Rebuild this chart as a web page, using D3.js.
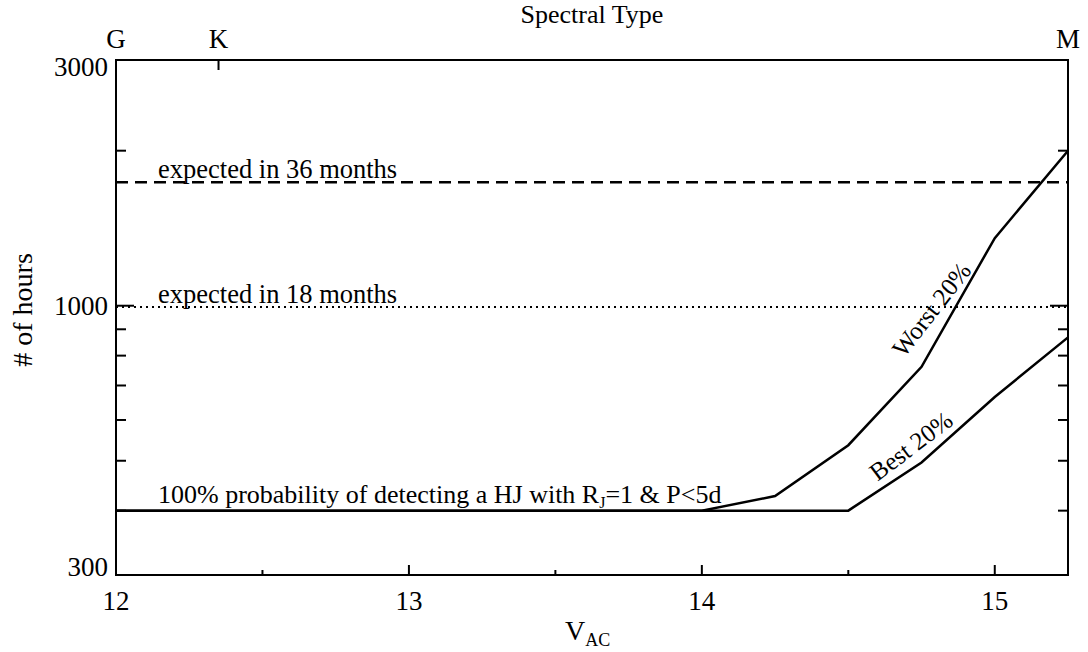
<!DOCTYPE html>
<html>
<head>
<meta charset="utf-8">
<script src="https://cdn.jsdelivr.net/npm/d3@7"></script>
<style>
body { margin: 0; background: #fff; }
text { font-family: "Liberation Serif", "Times New Roman", serif; fill: #000; }
</style>
</head>
<body>
<svg id="chart" width="1088" height="652"></svg>
<script>

// V_AC magnitudes
var vac = [ 12, 14, 14.25, 14.5, 14.75, 15, 15.25 ];
// hours needed
var worst20 = [ 400, 400, 427, 536, 761, 1353, 2000 ];
var best20 = [ 400, 400, 400, 400, 496, 665, 868 ];

var expected36 = 1736;
var expected18 = 994;

var xTicks = [ 12, 13, 14, 15 ];
var xMinorTicks = [ 12.5, 13.5, 14.5 ];
var yTicks = [ 300, 1000, 3000 ];
var yMinorTicks = [ 400, 500, 600, 700, 800, 900, 2000 ];

var spectralTypes = [ "G", "K", "M" ];
var spectralPos = [ 12, 12.35, 15.25 ];

var svg = d3.select("#chart");

// note: "top" is taken by window.top, so prefix them
var plotLeft = 116, plotRight = 1068, plotTop = 60, plotBottom = 575;

var x = d3.scaleLinear().domain([ 12, 15.25 ]).range([ plotLeft, plotRight ]);
var y = d3.scaleLog().domain([ 300, 3000 ]).range([ plotBottom, plotTop ]);

var line = d3.line() //
.x(function(d) {
	return x(d[0]);
}) //
.y(function(d) {
	return y(d[1]);
});

// frame
svg.append("rect") //
.attr("x", plotLeft) //
.attr("y", plotTop) //
.attr("width", plotRight - plotLeft) //
.attr("height", plotBottom - plotTop) //
.attr("fill", "none") //
.attr("stroke", "black") //
.attr("stroke-width", 2);

// bottom ticks
svg.selectAll(".xtick").data(xTicks).enter().append("line") //
.attr("x1", function(d) {
	return x(d);
}) //
.attr("x2", function(d) {
	return x(d);
}) //
.attr("y1", plotBottom) //
.attr("y2", plotBottom - 10) //
.attr("stroke", "black") //
.attr("stroke-width", 2);

svg.selectAll(".xminor").data(xMinorTicks).enter().append("line") //
.attr("x1", function(d) {
	return x(d);
}) //
.attr("x2", function(d) {
	return x(d);
}) //
.attr("y1", plotBottom) //
.attr("y2", plotBottom - 5) //
.attr("stroke", "black") //
.attr("stroke-width", 2);

svg.selectAll(".xlabel").data(xTicks).enter().append("text") //
.attr("x", function(d) {
	return x(d);
}) //
.attr("y", 610) //
.attr("text-anchor", "middle") //
.attr("font-size", 27) //
.text(function(d) {
	return d;
});

// left and right ticks
[ plotLeft, plotRight ].forEach(function(edge) {

	var dir = edge == plotLeft ? 1 : -1;

	svg.append("g").selectAll("line").data(yTicks).enter().append("line") //
	.attr("x1", edge) //
	.attr("x2", edge + dir * 18) //
	.attr("y1", function(d) {
		return y(d);
	}) //
	.attr("y2", function(d) {
		return y(d);
	}) //
	.attr("stroke", "black") //
	.attr("stroke-width", 2);

	svg.append("g").selectAll("line").data(yMinorTicks).enter().append(
			"line") //
	.attr("x1", edge) //
	.attr("x2", edge + dir * 10) //
	.attr("y1", function(d) {
		return y(d);
	}) //
	.attr("y2", function(d) {
		return y(d);
	}) //
	.attr("stroke", "black") //
	.attr("stroke-width", 2);

});// END: edge loop

svg.selectAll(".ylabel").data(yTicks).enter().append("text") //
.attr("x", plotLeft - 8) //
.attr("y", function(d, i) {
	// IDL style: first label sits on the axis, last one hangs under it
	if (i == 0)
		return y(d) + 1;
	if (i == yTicks.length - 1)
		return y(d) + 16;
	return y(d) + 9;
}) //
.attr("text-anchor", "end") //
.attr("font-size", 27) //
.text(function(d) {
	return d;
});

// top axis: spectral type
svg.append("line") //
.attr("x1", x(spectralPos[1])) //
.attr("x2", x(spectralPos[1])) //
.attr("y1", plotTop) //
.attr("y2", plotTop + 10) //
.attr("stroke", "black") //
.attr("stroke-width", 2);

svg.selectAll(".stype").data(spectralTypes).enter().append("text") //
.attr("x", function(d, i) {
	return x(spectralPos[i]);
}) //
.attr("y", 48) //
.attr("text-anchor", "middle") //
.attr("font-size", 27) //
.text(function(d) {
	return d;
});

// axis titles
svg.append("text") //
.attr("x", 592) //
.attr("y", 23) //
.attr("text-anchor", "middle") //
.attr("font-size", 26) //
.text("Spectral Type");

svg.append("text") //
.attr("transform", "translate(32,310) rotate(-90)") //
.attr("text-anchor", "middle") //
.attr("font-size", 28) //
.text("# of hours");

var vt = svg.append("text") //
.attr("x", 565) //
.attr("y", 640) //
.attr("font-size", 28);
vt.append("tspan").text("V");
vt.append("tspan").attr("font-size", 18).attr("dy", 6).text("AC");

// expected lines
svg.append("line") //
.attr("x1", plotLeft) //
.attr("x2", plotRight) //
.attr("y1", y(expected36)) //
.attr("y2", y(expected36)) //
.attr("stroke", "black") //
.attr("stroke-width", 2.5) //
.attr("stroke-dasharray", "12,7");

svg.append("line") //
.attr("x1", plotLeft) //
.attr("x2", plotRight) //
.attr("y1", y(expected18)) //
.attr("y2", y(expected18)) //
.attr("stroke", "black") //
.attr("stroke-width", 2) //
.attr("stroke-dasharray", "2,4");

svg.append("text") //
.attr("x", 158) //
.attr("y", y(expected36) - 4) //
.attr("font-size", 26.5) //
.text("expected in 36 months");

svg.append("text") //
.attr("x", 158) //
.attr("y", y(expected18) - 4) //
.attr("font-size", 26.5) //
.text("expected in 18 months");

// curves
[ worst20, best20 ].forEach(function(series) {

	svg.append("path") //
	.datum(vac.map(function(v, i) {
		return [ v, series[i] ];
	})) //
	.attr("d", line) //
	.attr("fill", "none") //
	.attr("stroke", "black") //
	.attr("stroke-width", 2.5);

});// END: series loop

var pt = svg.append("text") //
.attr("x", 158) //
.attr("y", y(400) - 8) //
.attr("font-size", 26);
pt.append("tspan").text("100% probability of detecting a HJ with R");
pt.append("tspan").attr("font-size", 16).attr("dy", 5).text("J");
pt.append("tspan").attr("dy", -5).text("=1 & P<5d");

svg.append("text") //
.attr("transform", "translate(" + x(14.69) + "," + y(790) + ") rotate(-52)") //
.attr("font-size", 25) //
.text("Worst 20%");

svg.append("text") //
.attr("transform", "translate(" + x(14.6) + "," + y(455) + ") rotate(-37)") //
.attr("font-size", 25) //
.text("Best 20%");

</script>
</body>
</html>
